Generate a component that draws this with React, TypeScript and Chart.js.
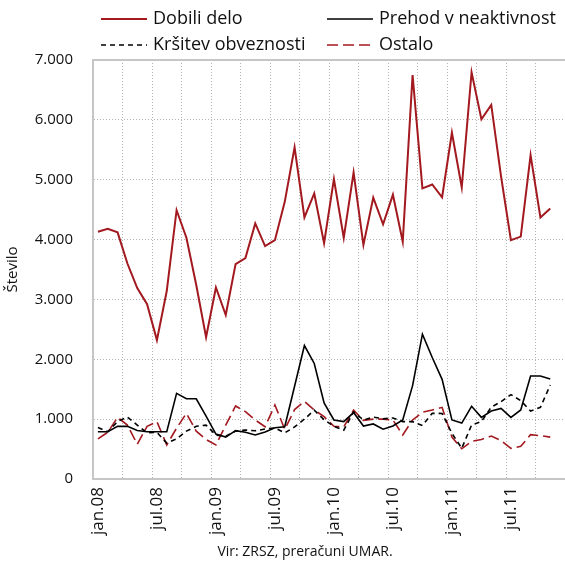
import React, { useEffect, useRef } from "react";
import { Chart, registerables } from "chart.js";

Chart.register(...registerables);

const categories = [
  "jan.08", "feb.08", "mar.08", "apr.08", "maj.08", "jun.08", "jul.08", "avg.08", "sep.08", "okt.08", "nov.08", "dec.08",
  "jan.09", "feb.09", "mar.09", "apr.09", "maj.09", "jun.09", "jul.09", "avg.09", "sep.09", "okt.09", "nov.09", "dec.09",
  "jan.10", "feb.10", "mar.10", "apr.10", "maj.10", "jun.10", "jul.10", "avg.10", "sep.10", "okt.10", "nov.10", "dec.10",
  "jan.11", "feb.11", "mar.11", "apr.11", "maj.11", "jun.11", "jul.11", "avg.11", "sep.11", "okt.11", "nov.11", "dec.11",
];

const dobiliDelo = [
  4130, 4180, 4120, 3600, 3190, 2920, 2320, 3140, 4490, 4030, 3240, 2370,
  3200, 2740, 3590, 3690, 4270, 3890, 3990, 4630, 5540, 4370, 4770, 3940,
  5010, 4030, 5120, 3910, 4700, 4255, 4750, 3965, 6750, 4855, 4920, 4705,
  5785, 4870, 6795, 6010, 6250, 5050, 3990, 4050, 5410, 4370, 4520, null,
];

const prehodVNeaktivnost = [
  790, 790, 880, 880, 810, 790, 790, 790, 1430, 1340, 1340, 1050,
  750, 700, 807, 780, 735, 785, 855, 874, 1550, 2230, 1930, 1270,
  986, 958, 1110, 885, 920, 833, 885, 986, 1560, 2420, 2030, 1665,
  986, 935, 1215, 1030, 1135, 1178, 1030, 1153, 1722, 1722, 1670, null,
];

const krsitevObveznosti = [
  860, 790, 960, 1035, 900, 770, 780, 600, 670, 800, 880, 900,
  735, 715, 800, 819, 805, 835, 855, 770, 870, 1000, 1150, 990,
  880, 815, 1120, 986, 1035, 1005, 1020, 958, 958, 895, 1097, 1095,
  763, 513, 902, 960, 1200, 1292, 1410, 1310, 1135, 1197, 1570, null,
];

const ostalo = [
  670, 780, 1030, 900, 580, 880, 958, 568, 850, 1097, 800, 660,
  568, 900, 1220, 1125, 986, 874, 1236, 830, 1160, 1295, 1153, 1041,
  880, 870, 1150, 980, 1000, 1000, 986, 735, 986, 1114, 1153, 1197,
  700, 505, 630, 660, 718, 640, 510, 545, 740, 724, 700, null,
];

const yTicks = [0, 1000, 2000, 3000, 4000, 5000, 6000, 7000];
const yTickLabels = ["0", "1.000", "2.000", "3.000", "4.000", "5.000", "6.000", "7.000"];

const RED = "#a2191f";
const BLACK = "#000000";
const FONT = "'Open Sans', 'Noto Sans', sans-serif";

const seriesNames = ["Dobili delo", "Prehod v neaktivnost", "Kršitev obveznosti", "Ostalo"];

const overlayPlugin = {
  id: "overlay",
  afterDraw(chart: any) {
    const ctx = chart.ctx as CanvasRenderingContext2D;
    const area = chart.chartArea;
    ctx.save();
    // top frame line
    ctx.strokeStyle = "#c6c6c6";
    ctx.lineWidth = 2;
    ctx.setLineDash([]);
    ctx.beginPath();
    ctx.moveTo(area.left, area.top);
    ctx.lineTo(area.right, area.top);
    ctx.stroke();

    // legend (2 x 2 grid)
    const items = [
      { x: 101, y: 19, ds: 0 },
      { x: 327, y: 19, ds: 1 },
      { x: 101, y: 45, ds: 2 },
      { x: 327, y: 45, ds: 3 },
    ];
    ctx.font = `18px ${FONT}`;
    ctx.textBaseline = "middle";
    ctx.textAlign = "left";
    items.forEach((it) => {
      const ds = chart.data.datasets[it.ds];
      ctx.strokeStyle = ds.borderColor;
      ctx.lineWidth = ds.borderWidth;
      ctx.setLineDash(ds.borderDash || []);
      ctx.beginPath();
      ctx.moveTo(it.x, it.y);
      ctx.lineTo(it.x + 46, it.y);
      ctx.stroke();
      ctx.setLineDash([]);
      ctx.fillStyle = "#111";
      ctx.fillText(ds.label, it.x + 52, it.y);
    });

    // source note
    ctx.textAlign = "center";
    ctx.font = `14px ${FONT}`;
    ctx.fillText("Vir: ZRSZ, preračuni UMAR.", 305, 552);
    ctx.restore();
  },
};

export default function App() {
  const canvasRef = useRef<HTMLCanvasElement | null>(null);

  useEffect(() => {
    if (!canvasRef.current) return;
    const chart = new Chart(canvasRef.current, {
      type: "line",
      data: {
        labels: categories,
        datasets: [
          { label: seriesNames[0], data: dobiliDelo, borderColor: RED, borderWidth: 2, borderDash: [] },
          { label: seriesNames[1], data: prehodVNeaktivnost, borderColor: BLACK, borderWidth: 1.6, borderDash: [] },
          { label: seriesNames[2], data: krsitevObveznosti, borderColor: BLACK, borderWidth: 1.6, borderDash: [5, 4] },
          { label: seriesNames[3], data: ostalo, borderColor: RED, borderWidth: 1.6, borderDash: [11, 5] },
        ].map((d) => ({ ...d, pointRadius: 0, tension: 0, fill: false, spanGaps: false })),
      },
      options: {
        animation: false,
        responsive: false,
        maintainAspectRatio: false,
        layout: { padding: { top: 60, left: 0, right: 0, bottom: 0 } },
        plugins: { legend: { display: false }, tooltip: { enabled: false } },
        scales: {
          x: {
            type: "category",
            offset: true,
            grid: {
              offset: true,
              drawTicks: false,
              tickLength: 0,
              lineWidth: 1,
              color: (c: any) =>
                c.index % 3 === 0 && c.index > 0 && c.index < categories.length ? "#b3b3b3" : "rgba(0,0,0,0)",
            },
            border: { display: true, color: "#c6c6c6", width: 2, dash: [1, 2] },
            ticks: {
              autoSkip: false,
              maxRotation: 90,
              minRotation: 90,
              padding: 8,
              color: "#111",
              font: { family: FONT, size: 17 },
              callback: (_v: any, i: number) => (i % 6 === 0 ? categories[i] : ""),
            },
            afterFit: (s: any) => {
              s.height = 83;
              s.paddingLeft = 0;
              s.paddingRight = 0;
            },
          },
          y: {
            min: 0,
            max: 7000,
            afterBuildTicks: (s: any) => {
              s.ticks = yTicks.map((v) => ({ value: v }));
            },
            grid: {
              drawTicks: false,
              tickLength: 0,
              lineWidth: 1,
              color: (c: any) => (c.tick && c.tick.value > 0 && c.tick.value < 7000 ? "#b3b3b3" : "rgba(0,0,0,0)"),
            },
            border: { display: true, color: "#c6c6c6", width: 2, dash: [1, 2] },
            ticks: {
              padding: 20,
              color: "#111",
              font: { family: FONT, size: 15 },
              callback: (v: any) => yTickLabels[yTicks.indexOf(Number(v))] ?? "",
            },
            title: {
              display: true,
              text: "Število",
              color: "#111",
              font: { family: FONT, size: 15 },
              padding: { top: 4, bottom: 0 },
            },
            afterFit: (s: any) => {
              s.width = 93;
              s.paddingTop = 0;
              s.paddingBottom = 0;
            },
          },
        },
      },
      plugins: [overlayPlugin],
    } as any);
    return () => chart.destroy();
  }, []);

  return (
    <div style={{ position: "fixed", left: 0, top: 0, width: 565, height: 562, background: "#fff" }}>
      <canvas ref={canvasRef} width={565} height={562} style={{ width: 565, height: 562, display: "block" }} />
    </div>
  );
}
